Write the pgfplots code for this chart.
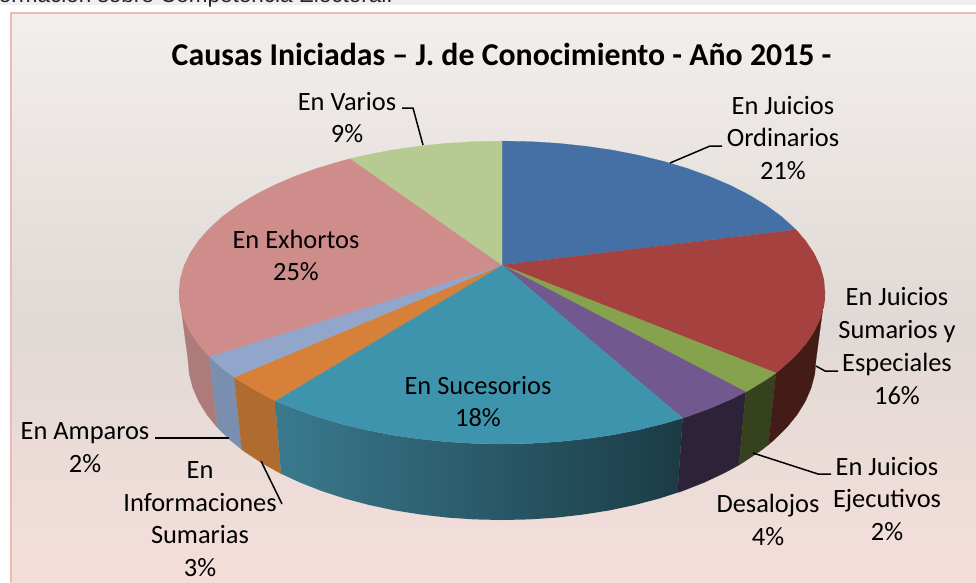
\documentclass[border=0pt]{standalone}
\usepackage{fontspec}
\setmainfont{Carlito}
\newfontfamily\webfont{Liberation Sans}
\usepackage{xcolor}
\usepackage{pgfplots}
\pgfplotsset{compat=1.18}
% top faces
\definecolor{cBlue}{HTML}{4570A5}
\definecolor{cRed}{HTML}{A5423F}
\definecolor{cGreen}{HTML}{87A24C}
\definecolor{cPurple}{HTML}{71588F}
\definecolor{cTeal}{HTML}{3F94AD}
\definecolor{cOrange}{HTML}{D6803A}
\definecolor{cLBlue}{HTML}{92A6CC}
\definecolor{cPink}{HTML}{CE8C8B}
\definecolor{cLGreen}{HTML}{B7CA91}
% side walls
\definecolor{sRed}{HTML}{431C18}
\definecolor{sGreen}{HTML}{36411E}
\definecolor{sPurple}{HTML}{2D2339}
\definecolor{sTealA}{HTML}{3A7A8E}
\definecolor{sTealB}{HTML}{235562}
\definecolor{sTealC}{HTML}{1B3B46}
\definecolor{sOrange}{HTML}{B06C30}
\definecolor{sLBlue}{HTML}{7A8FAF}
\definecolor{sPink}{HTML}{AE7B7B}
% background
\definecolor{bgA}{HTML}{F3EFEC}
\definecolor{bgB}{HTML}{E0D9D5}
\definecolor{bgC}{HTML}{F5DEDA}
\definecolor{frameL}{HTML}{EDB9B0}
\definecolor{stripG}{HTML}{EDF0EF}
\tikzset{
  lab/.style={font=\fontsize{26.4}{32.7}\selectfont, align=center, text=black, inner sep=0pt},
}
\begin{document}
\begin{tikzpicture}
\useasboundingbox (0,0) rectangle (976pt,582pt);
\begin{axis}[
    at={(0,0)}, anchor=south west,
    width=976pt, height=582pt, scale only axis,
    xmin=0, xmax=976, ymin=0, ymax=582, y dir=reverse,
    hide axis, clip=false]
  % page strip and chart background
  \addplot[draw=none, fill=white] coordinates {(0,0) (976,0) (976,582) (0,582)} --cycle;
  \addplot[draw=none, fill=stripG] coordinates {(0,0) (976,0) (976,5) (0,5)} --cycle;
  \addplot[draw=none, top color=bgA, bottom color=bgB] coordinates {(10,12) (976,12) (976,320) (10,320)} --cycle;
  \addplot[draw=none, top color=bgB, bottom color=bgC] coordinates {(10,320) (976,320) (976,582) (10,582)} --cycle;
  \addplot[frameL, line width=2pt] coordinates {(10.5,582) (10.5,12.5) (976,12.5)};
  \node[font=\webfont\fontsize{22.5}{26}\selectfont, text=black!85, anchor=base east, inner sep=0pt] at (axis cs:393,2.7) {Información sobre Competencia Electoral.};

  % side walls
  \addplot[draw=sPink, fill=sPink, line width=.2pt] coordinates {(209.3,356.5) (198.5,344.3) (190,331.7) (183.9,318.8) (180.2,305.7) (179,292.5) (188,360) (189.2,373.9) (192.8,387.8) (198.7,401.4) (206.9,414.7) (217.4,427.6)} --cycle;
  \addplot[draw=sLBlue, fill=sLBlue, line width=.2pt] coordinates {(234.2,377.2) (222.3,368.3) (209.3,356.5) (217.4,427.6) (230.1,440) (241.7,449.5)} --cycle;
  \addplot[draw=sOrange, fill=sOrange, line width=.2pt] coordinates {(275,400.8) (254.6,389.9) (237.4,379.4) (234.2,377.2) (241.7,449.5) (244.8,451.8) (261.5,462.8) (281,473.7)} --cycle;
  \addplot[draw=none, left color=sTealA, middle color=sTealB, right color=sTealC] coordinates {(682.6,418.1) (663.5,423.7) (638.5,429.8) (612.5,434.9) (585.6,438.8) (558.1,441.7) (530.2,443.4) (502,444) (473.8,443.4) (445.9,441.7) (418.4,438.8) (391.5,434.9) (365.5,429.8) (340.5,423.7) (316.7,416.6) (294.4,408.5) (275,400.8) (281,473.7) (300.2,482.6) (321.9,491.1) (345,498.6) (369.3,505) (394.6,510.4) (420.7,514.5) (447.5,517.6) (474.6,519.4) (502,520) (529.4,519.4) (556.5,517.6) (583.3,514.5) (609.4,510.4) (634.7,505) (659,498.6) (677.6,492.6)} --cycle;
  \addplot[draw=sPurple, fill=sPurple, line width=.2pt] coordinates {(745.8,391.9) (730.4,399.6) (709.6,408.5) (687.3,416.6) (682.6,418.1) (677.6,492.6) (682.1,491.1) (703.8,482.6) (724,473.1) (739,465)} --cycle;
  \addplot[draw=sGreen, fill=sGreen, line width=.2pt] coordinates {(776,373) (766.6,379.4) (749.4,389.9) (745.8,391.9) (739,465) (742.5,462.8) (759.2,451.8) (768.3,444.8)} --cycle;
  \addplot[draw=sRed, fill=sRed, line width=.2pt] coordinates {(825,292.5) (823.8,305.7) (820.1,318.8) (814,331.7) (805.5,344.3) (794.7,356.5) (781.7,368.3) (776,373) (768.3,444.8) (773.9,440) (786.6,427.6) (797.1,414.7) (805.3,401.4) (811.2,387.8) (814.8,373.9) (816,360)} --cycle;

  % top faces
  \addplot[draw=cBlue, fill=cBlue, line width=.2pt] coordinates {(502,265) (502,141) (530.2,141.6) (558.1,143.3) (585.6,146.2) (612.5,150.1) (638.5,155.2) (663.5,161.3) (687.3,168.4) (709.6,176.5) (730.4,185.4) (749.4,195.1) (766.6,205.6) (781.7,216.7) (794.7,228.5) (796,229.7)} --cycle;
  \addplot[draw=cRed, fill=cRed, line width=.2pt] coordinates {(502,265) (796,229.7) (805.5,240.7) (814,253.3) (820.1,266.2) (823.8,279.3) (825,292.5) (823.8,305.7) (820.1,318.8) (814,331.7) (805.5,344.3) (794.7,356.5) (781.7,368.3) (776,373)} --cycle;
  \addplot[draw=cGreen, fill=cGreen, line width=.2pt] coordinates {(502,265) (776,373) (766.6,379.4) (749.4,389.9) (745.8,391.9)} --cycle;
  \addplot[draw=cPurple, fill=cPurple, line width=.2pt] coordinates {(502,265) (745.8,391.9) (730.4,399.6) (709.6,408.5) (687.3,416.6) (682.6,418.1)} --cycle;
  \addplot[draw=cTeal, fill=cTeal, line width=.2pt] coordinates {(502,265) (682.6,418.1) (663.5,423.7) (638.5,429.8) (612.5,434.9) (585.6,438.8) (558.1,441.7) (530.2,443.4) (502,444) (473.8,443.4) (445.9,441.7) (418.4,438.8) (391.5,434.9) (365.5,429.8) (340.5,423.7) (316.7,416.6) (294.4,408.5) (275,400.8)} --cycle;
  \addplot[draw=cOrange, fill=cOrange, line width=.2pt] coordinates {(502,265) (275,400.8) (254.6,389.9) (237.4,379.4) (234.2,377.2)} --cycle;
  \addplot[draw=cLBlue, fill=cLBlue, line width=.2pt] coordinates {(502,265) (234.2,377.2) (222.3,368.3) (209.3,356.5)} --cycle;
  \addplot[draw=cPink, fill=cPink, line width=.2pt] coordinates {(502,265) (209.3,356.5) (198.5,344.3) (190,331.7) (183.9,318.8) (180.2,305.7) (179,292.5) (180.2,279.3) (183.9,266.2) (190,253.3) (198.5,240.7) (209.3,228.5) (222.3,216.7) (237.4,205.6) (254.6,195.1) (273.6,185.4) (294.4,176.5) (316.7,168.4) (340.5,161.3) (350.4,158.7)} --cycle;
  \addplot[draw=cLGreen, fill=cLGreen, line width=.2pt] coordinates {(502,265) (350.4,158.7) (365.5,155.2) (391.5,150.1) (418.4,146.2) (445.9,143.3) (473.8,141.6) (502,141)} --cycle;

  % leader lines
  \addplot[black, line width=1.5pt] coordinates {(402,108) (413,108) (423,145)};
  \addplot[black, line width=1.5pt] coordinates {(670,163) (710,146) (722,146)};
  \addplot[black, line width=1.5pt] coordinates {(816,366) (825,371) (838,371)};
  \addplot[black, line width=1.5pt] coordinates {(753,453) (818,474) (831,474)};
  \addplot[black, line width=1.5pt] coordinates {(155,438) (229,438)};
  \addplot[black, line width=1.5pt] coordinates {(261,461) (282,504)};

  % text
  \node[font=\bfseries\fontsize{31.8}{36}\selectfont, text=black, inner sep=0pt] at (axis cs:501.5,54) {Causas Iniciadas – J. de Conocimiento - Año 2015 -};
  \node[lab] at (axis cs:347,117.5) {En Varios\\9\%};
  \node[lab] at (axis cs:783,138) {En Juicios\\Ordinarios\\21\%};
  \node[lab] at (axis cs:897,346) {En Juicios\\Sumarios y\\Especiales\\16\%};
  \node[lab] at (axis cs:887,499) {En Juicios\\Ejecutivos\\2\%};
  \node[lab] at (axis cs:768,520) {Desalojos\\4\%};
  \node[lab] at (axis cs:478,401.5) {En Sucesorios\\18\%};
  \node[lab] at (axis cs:200,519) {En\\Informaciones\\Sumarias\\3\%};
  \node[lab] at (axis cs:85,447.5) {En Amparos\\2\%};
  \node[lab] at (axis cs:296,255.5) {En Exhortos\\25\%};
\end{axis}
\end{tikzpicture}
\end{document}
